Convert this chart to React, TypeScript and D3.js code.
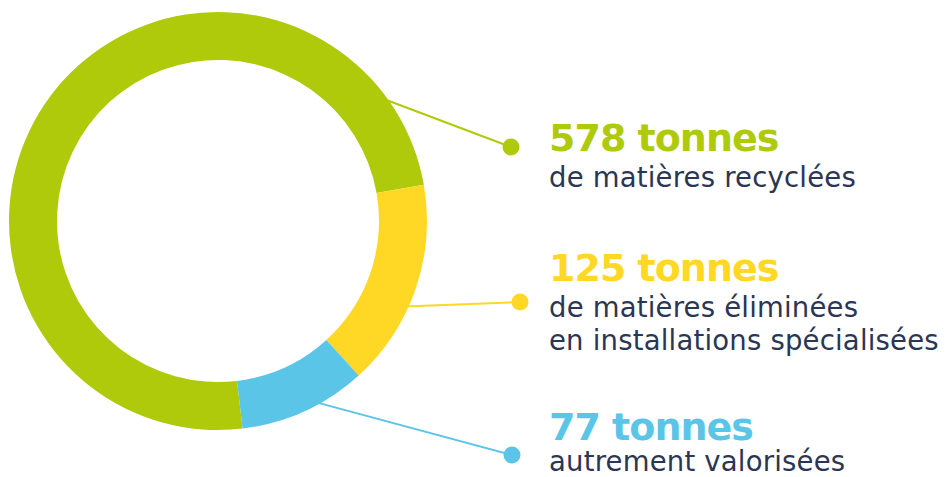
import React, { useEffect, useRef } from 'react';
import * as d3 from 'd3';

// Data
const categories = ['recyclées', 'éliminées', 'valorisées'];
const tonnes = [578, 125, 77];
const titles = ['578 tonnes', '125 tonnes', '77 tonnes'];
const subtitles = [
  ['de matières recyclées'],
  ['de matières éliminées', 'en installations spécialisées'],
  ['autrement valorisées'],
];
const colors = ['#afca0b', '#fed824', '#5bc5e8'];

const WIDTH = 947;
const HEIGHT = 477;

export default function App() {
  const svgRef = useRef<SVGSVGElement>(null);

  useEffect(() => {
    if (!svgRef.current) return;
    const svg = d3.select(svgRef.current);
    svg.selectAll('*').remove();

    const cx = 218;
    const cy = 221;
    const outer = 209;
    const inner = 161;
    const rad = Math.PI / 180;

    // yellow slice begins just below 3 o'clock
    const total = d3.sum(tonnes);
    const start = 80 * rad - (tonnes[0] / total) * 2 * Math.PI;

    const pie = d3
      .pie<number>()
      .sort(null)
      .startAngle(start)
      .endAngle(start + 2 * Math.PI);
    const arcs = pie(tonnes);

    const arc = d3.arc<d3.PieArcDatum<number>>().innerRadius(inner).outerRadius(outer);

    const g = svg.append('g').attr('transform', `translate(${cx},${cy})`);
    g.selectAll('path')
      .data(arcs)
      .enter()
      .append('path')
      .attr('d', arc)
      .attr('fill', (_, i) => colors[i]);

    // label blocks
    const textX = 549;
    const titleY = [151, 281, 440];
    const subGap = [36, 36, 31];
    const dotPos = [
      { x: 511, y: 147 },
      { x: 520, y: 302 },
      { x: 512, y: 455 },
    ];
    const anchorAt = [0.9, 0.6, 0.4];

    arcs.forEach((a, i) => {
      const ang = a.startAngle + (a.endAngle - a.startAngle) * anchorAt[i];
      const ax = cx + Math.sin(ang) * (outer - 4);
      const ay = cy - Math.cos(ang) * (outer - 4);

      svg
        .append('line')
        .attr('x1', ax)
        .attr('y1', ay)
        .attr('x2', dotPos[i].x)
        .attr('y2', dotPos[i].y)
        .attr('stroke', colors[i])
        .attr('stroke-width', 2);

      svg
        .append('circle')
        .attr('cx', dotPos[i].x)
        .attr('cy', dotPos[i].y)
        .attr('r', 8.5)
        .attr('fill', colors[i]);

      svg
        .append('text')
        .attr('x', textX)
        .attr('y', titleY[i])
        .attr('fill', colors[i])
        .attr('font-family', 'DejaVu Sans')
        .attr('font-weight', 'bold')
        .attr('font-size', 38)
        .attr('letter-spacing', -1)
        .attr('data-cat', categories[i])
        .text(titles[i]);

      subtitles[i].forEach((line, j) => {
        svg
          .append('text')
          .attr('x', textX)
          .attr('y', titleY[i] + subGap[i] + j * 33)
          .attr('fill', '#2b3654')
          .attr('font-family', 'DejaVu Sans')
          .attr('font-size', 27.5)
          .attr('letter-spacing', 0.2)
          .text(line);
      });
    });
  }, []);

  return (
    <svg
      ref={svgRef}
      width={WIDTH}
      height={HEIGHT}
      style={{ position: 'absolute', left: 0, top: 0, background: '#fff' }}
    />
  );
}
